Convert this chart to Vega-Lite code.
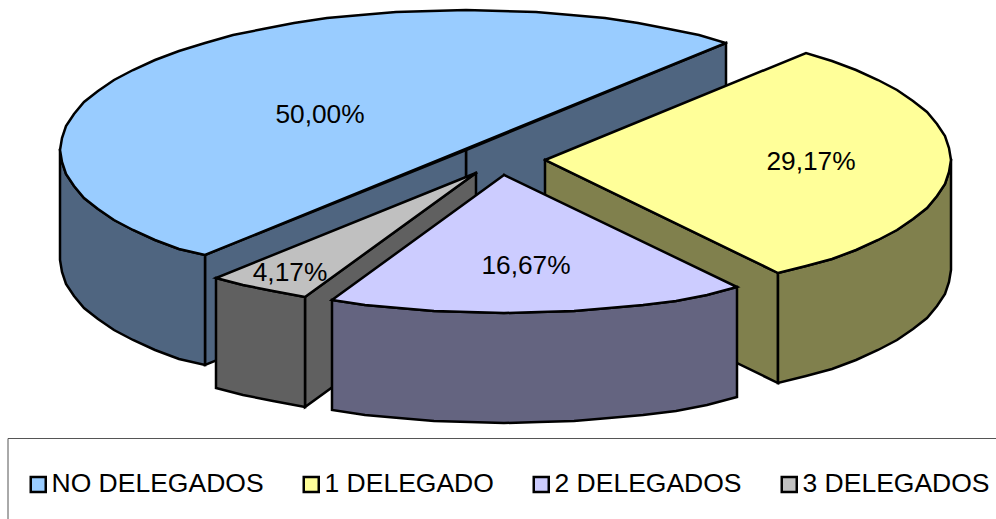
{"$schema":"https://vega.github.io/schema/vega-lite/v6.json","width":996,"height":519,"padding":0,"autosize":"none","background":"white","config":{"view":{"stroke":null}},
"encoding":{
"x":{"field":"x","type":"quantitative","scale":{"domain":[0,996],"nice":false,"zero":false},"axis":null},
"y":{"field":"y","type":"quantitative","scale":{"domain":[519,0],"nice":false,"zero":false},"axis":null}
},
"layer":[
{"data":{"values":[
{"p":"a1","s":"NO lado","i":0,"x":466,"y":150},{"p":"a1","s":"NO lado","i":1,"x":726,"y":43},{"p":"a1","s":"NO lado","i":2,"x":726,"y":153},{"p":"a1","s":"NO lado","i":3,"x":466,"y":260},{"p":"a1","s":"NO lado","i":4,"x":466,"y":150},
{"p":"a2","s":"NO lado","i":0,"x":205,"y":255},{"p":"a2","s":"NO lado","i":1,"x":466,"y":150},{"p":"a2","s":"NO lado","i":2,"x":466,"y":260},{"p":"a2","s":"NO lado","i":3,"x":205,"y":365},{"p":"a2","s":"NO lado","i":4,"x":205,"y":255},
{"p":"a3","s":"NO lado","i":0,"x":60,"y":150},{"p":"a3","s":"NO lado","i":1,"x":62,"y":162},{"p":"a3","s":"NO lado","i":2,"x":66,"y":174},{"p":"a3","s":"NO lado","i":3,"x":74,"y":186},{"p":"a3","s":"NO lado","i":4,"x":84,"y":198},{"p":"a3","s":"NO lado","i":5,"x":98,"y":209},{"p":"a3","s":"NO lado","i":6,"x":114,"y":220},{"p":"a3","s":"NO lado","i":7,"x":133,"y":230},{"p":"a3","s":"NO lado","i":8,"x":155,"y":240},{"p":"a3","s":"NO lado","i":9,"x":179,"y":249},{"p":"a3","s":"NO lado","i":10,"x":205,"y":255},{"p":"a3","s":"NO lado","i":11,"x":205,"y":365},{"p":"a3","s":"NO lado","i":12,"x":179,"y":359},{"p":"a3","s":"NO lado","i":13,"x":155,"y":350},{"p":"a3","s":"NO lado","i":14,"x":133,"y":340},{"p":"a3","s":"NO lado","i":15,"x":114,"y":330},{"p":"a3","s":"NO lado","i":16,"x":98,"y":319},{"p":"a3","s":"NO lado","i":17,"x":84,"y":308},{"p":"a3","s":"NO lado","i":18,"x":74,"y":296},{"p":"a3","s":"NO lado","i":19,"x":66,"y":284},{"p":"a3","s":"NO lado","i":20,"x":62,"y":272},{"p":"a3","s":"NO lado","i":21,"x":60,"y":260},{"p":"a3","s":"NO lado","i":22,"x":60,"y":150},
{"p":"a4","s":"NO DELEGADOS","i":0,"x":726,"y":43},{"p":"a4","s":"NO DELEGADOS","i":1,"x":699,"y":35},{"p":"a4","s":"NO DELEGADOS","i":2,"x":669,"y":29},{"p":"a4","s":"NO DELEGADOS","i":3,"x":638,"y":23},{"p":"a4","s":"NO DELEGADOS","i":4,"x":605,"y":18},{"p":"a4","s":"NO DELEGADOS","i":5,"x":571,"y":15},{"p":"a4","s":"NO DELEGADOS","i":6,"x":536,"y":12},{"p":"a4","s":"NO DELEGADOS","i":7,"x":501,"y":11},{"p":"a4","s":"NO DELEGADOS","i":8,"x":466,"y":10},{"p":"a4","s":"NO DELEGADOS","i":9,"x":431,"y":11},{"p":"a4","s":"NO DELEGADOS","i":10,"x":396,"y":12},{"p":"a4","s":"NO DELEGADOS","i":11,"x":361,"y":15},{"p":"a4","s":"NO DELEGADOS","i":12,"x":327,"y":18},{"p":"a4","s":"NO DELEGADOS","i":13,"x":294,"y":23},{"p":"a4","s":"NO DELEGADOS","i":14,"x":263,"y":29},{"p":"a4","s":"NO DELEGADOS","i":15,"x":233,"y":35},{"p":"a4","s":"NO DELEGADOS","i":16,"x":205,"y":43},{"p":"a4","s":"NO DELEGADOS","i":17,"x":179,"y":51},{"p":"a4","s":"NO DELEGADOS","i":18,"x":155,"y":60},{"p":"a4","s":"NO DELEGADOS","i":19,"x":133,"y":70},{"p":"a4","s":"NO DELEGADOS","i":20,"x":114,"y":80},{"p":"a4","s":"NO DELEGADOS","i":21,"x":98,"y":91},{"p":"a4","s":"NO DELEGADOS","i":22,"x":84,"y":102},{"p":"a4","s":"NO DELEGADOS","i":23,"x":74,"y":114},{"p":"a4","s":"NO DELEGADOS","i":24,"x":66,"y":126},{"p":"a4","s":"NO DELEGADOS","i":25,"x":62,"y":138},{"p":"a4","s":"NO DELEGADOS","i":26,"x":60,"y":150},{"p":"a4","s":"NO DELEGADOS","i":27,"x":62,"y":162},{"p":"a4","s":"NO DELEGADOS","i":28,"x":66,"y":174},{"p":"a4","s":"NO DELEGADOS","i":29,"x":74,"y":186},{"p":"a4","s":"NO DELEGADOS","i":30,"x":84,"y":198},{"p":"a4","s":"NO DELEGADOS","i":31,"x":98,"y":209},{"p":"a4","s":"NO DELEGADOS","i":32,"x":114,"y":220},{"p":"a4","s":"NO DELEGADOS","i":33,"x":133,"y":230},{"p":"a4","s":"NO DELEGADOS","i":34,"x":155,"y":240},{"p":"a4","s":"NO DELEGADOS","i":35,"x":179,"y":249},{"p":"a4","s":"NO DELEGADOS","i":36,"x":205,"y":255},{"p":"a4","s":"NO DELEGADOS","i":37,"x":726,"y":43},
{"p":"b1","s":"1 lado","i":0,"x":545,"y":160},{"p":"b1","s":"1 lado","i":1,"x":778,"y":273},{"p":"b1","s":"1 lado","i":2,"x":778,"y":383},{"p":"b1","s":"1 lado","i":3,"x":545,"y":270},{"p":"b1","s":"1 lado","i":4,"x":545,"y":160},
{"p":"b2","s":"1 lado","i":0,"x":951,"y":160},{"p":"b2","s":"1 lado","i":1,"x":949,"y":172},{"p":"b2","s":"1 lado","i":2,"x":945,"y":184},{"p":"b2","s":"1 lado","i":3,"x":937,"y":196},{"p":"b2","s":"1 lado","i":4,"x":927,"y":208},{"p":"b2","s":"1 lado","i":5,"x":913,"y":219},{"p":"b2","s":"1 lado","i":6,"x":897,"y":230},{"p":"b2","s":"1 lado","i":7,"x":878,"y":240},{"p":"b2","s":"1 lado","i":8,"x":856,"y":250},{"p":"b2","s":"1 lado","i":9,"x":832,"y":259},{"p":"b2","s":"1 lado","i":10,"x":806,"y":266},{"p":"b2","s":"1 lado","i":11,"x":778,"y":273},{"p":"b2","s":"1 lado","i":12,"x":778,"y":383},{"p":"b2","s":"1 lado","i":13,"x":806,"y":376},{"p":"b2","s":"1 lado","i":14,"x":832,"y":369},{"p":"b2","s":"1 lado","i":15,"x":856,"y":360},{"p":"b2","s":"1 lado","i":16,"x":878,"y":350},{"p":"b2","s":"1 lado","i":17,"x":897,"y":340},{"p":"b2","s":"1 lado","i":18,"x":913,"y":329},{"p":"b2","s":"1 lado","i":19,"x":927,"y":318},{"p":"b2","s":"1 lado","i":20,"x":937,"y":306},{"p":"b2","s":"1 lado","i":21,"x":945,"y":294},{"p":"b2","s":"1 lado","i":22,"x":949,"y":282},{"p":"b2","s":"1 lado","i":23,"x":951,"y":270},{"p":"b2","s":"1 lado","i":24,"x":951,"y":160},
{"p":"b3","s":"1 DELEGADO","i":0,"x":545,"y":160},{"p":"b3","s":"1 DELEGADO","i":1,"x":806,"y":53},{"p":"b3","s":"1 DELEGADO","i":2,"x":832,"y":61},{"p":"b3","s":"1 DELEGADO","i":3,"x":856,"y":70},{"p":"b3","s":"1 DELEGADO","i":4,"x":878,"y":80},{"p":"b3","s":"1 DELEGADO","i":5,"x":897,"y":90},{"p":"b3","s":"1 DELEGADO","i":6,"x":913,"y":101},{"p":"b3","s":"1 DELEGADO","i":7,"x":927,"y":112},{"p":"b3","s":"1 DELEGADO","i":8,"x":937,"y":124},{"p":"b3","s":"1 DELEGADO","i":9,"x":945,"y":136},{"p":"b3","s":"1 DELEGADO","i":10,"x":949,"y":148},{"p":"b3","s":"1 DELEGADO","i":11,"x":951,"y":160},{"p":"b3","s":"1 DELEGADO","i":12,"x":949,"y":172},{"p":"b3","s":"1 DELEGADO","i":13,"x":945,"y":184},{"p":"b3","s":"1 DELEGADO","i":14,"x":937,"y":196},{"p":"b3","s":"1 DELEGADO","i":15,"x":927,"y":208},{"p":"b3","s":"1 DELEGADO","i":16,"x":913,"y":219},{"p":"b3","s":"1 DELEGADO","i":17,"x":897,"y":230},{"p":"b3","s":"1 DELEGADO","i":18,"x":878,"y":240},{"p":"b3","s":"1 DELEGADO","i":19,"x":856,"y":250},{"p":"b3","s":"1 DELEGADO","i":20,"x":832,"y":259},{"p":"b3","s":"1 DELEGADO","i":21,"x":806,"y":266},{"p":"b3","s":"1 DELEGADO","i":22,"x":778,"y":273},{"p":"b3","s":"1 DELEGADO","i":23,"x":545,"y":160},
{"p":"c1","s":"3 lado","i":0,"x":476,"y":173},{"p":"c1","s":"3 lado","i":1,"x":305,"y":297},{"p":"c1","s":"3 lado","i":2,"x":305,"y":407},{"p":"c1","s":"3 lado","i":3,"x":476,"y":283},{"p":"c1","s":"3 lado","i":4,"x":476,"y":173},
{"p":"c2","s":"3 lado","i":0,"x":216,"y":278},{"p":"c2","s":"3 lado","i":1,"x":243,"y":285},{"p":"c2","s":"3 lado","i":2,"x":273,"y":291},{"p":"c2","s":"3 lado","i":3,"x":305,"y":297},{"p":"c2","s":"3 lado","i":4,"x":305,"y":407},{"p":"c2","s":"3 lado","i":5,"x":273,"y":401},{"p":"c2","s":"3 lado","i":6,"x":243,"y":395},{"p":"c2","s":"3 lado","i":7,"x":216,"y":388},{"p":"c2","s":"3 lado","i":8,"x":216,"y":278},
{"p":"c3","s":"3 DELEGADOS","i":0,"x":476,"y":173},{"p":"c3","s":"3 DELEGADOS","i":1,"x":305,"y":297},{"p":"c3","s":"3 DELEGADOS","i":2,"x":273,"y":291},{"p":"c3","s":"3 DELEGADOS","i":3,"x":243,"y":285},{"p":"c3","s":"3 DELEGADOS","i":4,"x":216,"y":278},{"p":"c3","s":"3 DELEGADOS","i":5,"x":476,"y":173},
{"p":"d1","s":"2 lado","i":0,"x":737,"y":287},{"p":"d1","s":"2 lado","i":1,"x":707,"y":295},{"p":"d1","s":"2 lado","i":2,"x":676,"y":301},{"p":"d1","s":"2 lado","i":3,"x":643,"y":305},{"p":"d1","s":"2 lado","i":4,"x":609,"y":308},{"p":"d1","s":"2 lado","i":5,"x":574,"y":311},{"p":"d1","s":"2 lado","i":6,"x":539,"y":312},{"p":"d1","s":"2 lado","i":7,"x":504,"y":313},{"p":"d1","s":"2 lado","i":8,"x":469,"y":312},{"p":"d1","s":"2 lado","i":9,"x":434,"y":311},{"p":"d1","s":"2 lado","i":10,"x":399,"y":308},{"p":"d1","s":"2 lado","i":11,"x":365,"y":305},{"p":"d1","s":"2 lado","i":12,"x":332,"y":300},{"p":"d1","s":"2 lado","i":13,"x":332,"y":410},{"p":"d1","s":"2 lado","i":14,"x":365,"y":415},{"p":"d1","s":"2 lado","i":15,"x":399,"y":418},{"p":"d1","s":"2 lado","i":16,"x":434,"y":421},{"p":"d1","s":"2 lado","i":17,"x":469,"y":422},{"p":"d1","s":"2 lado","i":18,"x":504,"y":423},{"p":"d1","s":"2 lado","i":19,"x":539,"y":422},{"p":"d1","s":"2 lado","i":20,"x":574,"y":421},{"p":"d1","s":"2 lado","i":21,"x":609,"y":418},{"p":"d1","s":"2 lado","i":22,"x":643,"y":415},{"p":"d1","s":"2 lado","i":23,"x":676,"y":411},{"p":"d1","s":"2 lado","i":24,"x":707,"y":405},{"p":"d1","s":"2 lado","i":25,"x":737,"y":397},{"p":"d1","s":"2 lado","i":26,"x":737,"y":287},
{"p":"d2","s":"2 DELEGADOS","i":0,"x":504,"y":175},{"p":"d2","s":"2 DELEGADOS","i":1,"x":737,"y":287},{"p":"d2","s":"2 DELEGADOS","i":2,"x":707,"y":295},{"p":"d2","s":"2 DELEGADOS","i":3,"x":676,"y":301},{"p":"d2","s":"2 DELEGADOS","i":4,"x":643,"y":305},{"p":"d2","s":"2 DELEGADOS","i":5,"x":609,"y":308},{"p":"d2","s":"2 DELEGADOS","i":6,"x":574,"y":311},{"p":"d2","s":"2 DELEGADOS","i":7,"x":539,"y":312},{"p":"d2","s":"2 DELEGADOS","i":8,"x":504,"y":313},{"p":"d2","s":"2 DELEGADOS","i":9,"x":469,"y":312},{"p":"d2","s":"2 DELEGADOS","i":10,"x":434,"y":311},{"p":"d2","s":"2 DELEGADOS","i":11,"x":399,"y":308},{"p":"d2","s":"2 DELEGADOS","i":12,"x":365,"y":305},{"p":"d2","s":"2 DELEGADOS","i":13,"x":332,"y":300},{"p":"d2","s":"2 DELEGADOS","i":14,"x":504,"y":175}
]},
"mark":{"type":"line","stroke":"black","strokeWidth":2.5,"strokeJoin":"miter","strokeCap":"square","clip":false},
"encoding":{
"detail":{"field":"p"},
"order":{"field":"i","type":"quantitative"},
"fill":{"field":"s","type":"nominal","scale":{"domain":["NO DELEGADOS","1 DELEGADO","2 DELEGADOS","3 DELEGADOS","NO lado","1 lado","2 lado","3 lado"],"range":["#99CCFF","#FFFF99","#CCCCFF","#C0C0C0","#4F6580","#80804D","#646480","#606060"]},
"legend":{"values":["NO DELEGADOS","1 DELEGADO","2 DELEGADOS","3 DELEGADOS"],"title":null,"orient":"none","legendX":25,"legendY":471,"columns":4,"columnPadding":34,"symbolType":"square","symbolSize":225,"symbolStrokeColor":"black","symbolStrokeWidth":2.5,"labelFont":"Liberation Sans","labelFontSize":26.5,"labelColor":"black","labelOffset":0,"labelLimit":400,"padding":0}}
}},
{"data":{"values":[{"t":"50,00%","x":320,"y":115},{"t":"29,17%","x":811,"y":162},{"t":"16,67%","x":526,"y":266},{"t":"4,17%","x":290,"y":273}]},
"mark":{"type":"text","font":"Liberation Sans","fontSize":26.3,"color":"black","align":"center","baseline":"middle"},
"encoding":{"text":{"field":"t"}}},
{"data":{"values":[{"i":0,"x":8,"y":519},{"i":1,"x":8,"y":438.5},{"i":2,"x":996,"y":438.5}]},
"mark":{"type":"line","stroke":"#555555","strokeWidth":1},
"encoding":{"order":{"field":"i","type":"quantitative"}}}
]}
